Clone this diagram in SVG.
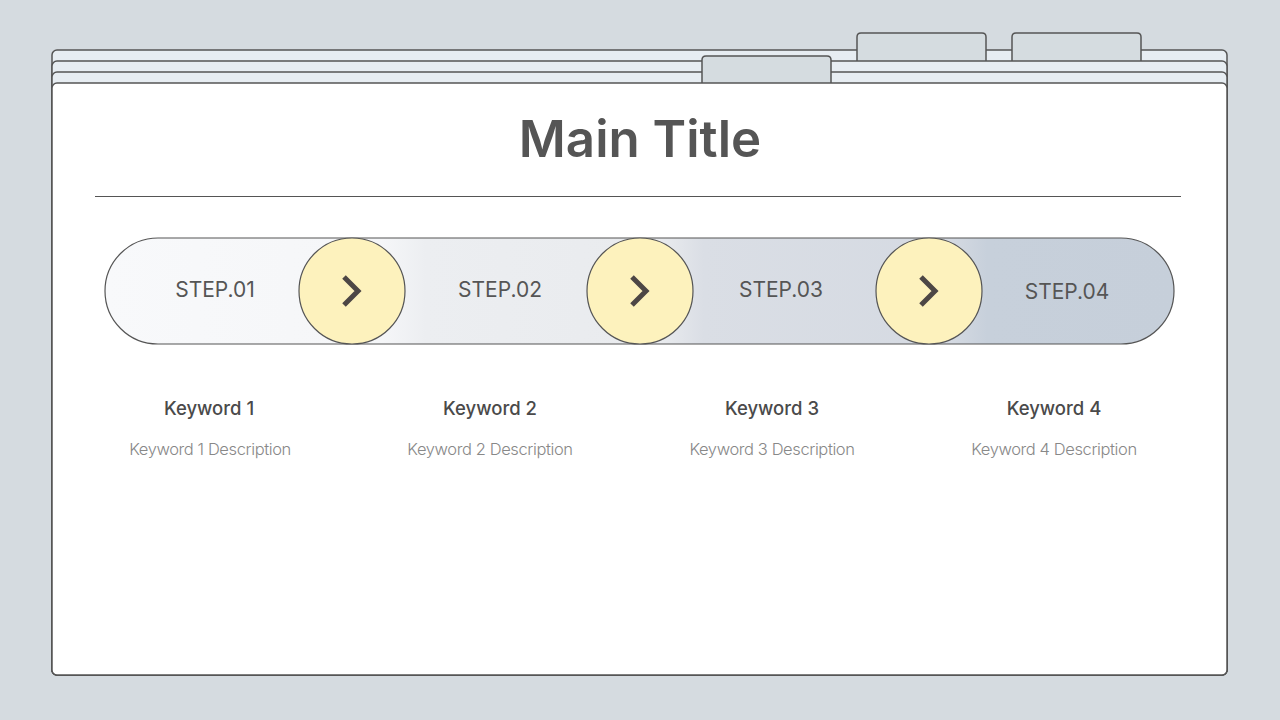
<svg xmlns="http://www.w3.org/2000/svg" width="1280" height="720" viewBox="0 0 1280 720">
<defs>
<style>
.sheet{fill:#e7edf2;stroke:#555;stroke-width:1.5}
.tab{fill:#d5dce0;stroke:#555;stroke-width:1.5}
.circ{fill:#fdf2bd;stroke:#555;stroke-width:1.2}
.chev{fill:none;stroke:#4d4745;stroke-width:5;stroke-linejoin:miter;stroke-linecap:butt}
.step{font-family:Inter,"Liberation Sans",sans-serif;font-size:21px;fill:#555;text-anchor:middle}
.kw{font-family:Inter,"Liberation Sans",sans-serif;font-size:18.5px;font-weight:500;fill:#4a4a4a;text-anchor:middle}
.desc{font-family:Inter,"Liberation Sans",sans-serif;font-size:16.5px;font-weight:300;letter-spacing:-0.4px;fill:#888;text-anchor:middle}
</style>
<linearGradient id="pillg" x1="105" y1="0" x2="1174" y2="0" gradientUnits="userSpaceOnUse">
<stop offset="0" stop-color="#f8f9fb"/>
<stop offset="0.26" stop-color="#f5f6f8"/>
<stop offset="0.30" stop-color="#eceef1"/>
<stop offset="0.52" stop-color="#e9ebee"/>
<stop offset="0.56" stop-color="#dadee5"/>
<stop offset="0.79" stop-color="#d5dae2"/>
<stop offset="0.825" stop-color="#c7d0db"/>
<stop offset="1" stop-color="#c6cfda"/>
</linearGradient>
</defs>
<rect x="0" y="0" width="1280" height="720" fill="#d5dbe0"/>
<g id="folder">
<rect class="sheet" x="52" y="50" width="1175" height="625" rx="5"/>
<path class="tab" d="M857,61 V37 Q857,33 861,33 H982 Q986,33 986,37 V61"/>
<path class="tab" d="M1012,61 V37 Q1012,33 1016,33 H1137 Q1141,33 1141,37 V61"/>
<rect class="sheet" x="52" y="61" width="1175" height="614" rx="5"/>
<rect class="sheet" x="52" y="72" width="1175" height="603" rx="5"/>
<path class="tab" d="M702,84 V60 Q702,56 706,56 H827 Q831,56 831,60 V84"/>
<rect x="52" y="83" width="1175" height="592" rx="5" fill="#ffffff" stroke="#555" stroke-width="1.5"/>
</g>
<g id="title">
<text x="640" y="157" font-family="Inter,'Liberation Sans',sans-serif" font-size="51" font-weight="600" fill="#555" text-anchor="middle">Main Title</text>
<line x1="95" y1="196.5" x2="1181" y2="196.5" stroke="#555" stroke-width="1"/>
</g>
<g id="pill">
<rect x="105" y="238" width="1069" height="106" rx="53" fill="url(#pillg)" stroke="#555" stroke-width="1.2"/>
</g>
<g id="step1">
<text class="step" x="215" y="297">STEP.01</text>
</g>
<g id="step2">
<text class="step" x="500" y="297">STEP.02</text>
</g>
<g id="step3">
<text class="step" x="781" y="297">STEP.03</text>
</g>
<g id="step4">
<text class="step" x="1067" y="299">STEP.04</text>
</g>
<g id="connectors">
<g id="arrow1"><circle class="circ" cx="352" cy="291" r="53"/><polyline class="chev" points="344,277 358,291 344,305"/></g>
<g id="arrow2"><circle class="circ" cx="640" cy="291" r="53"/><polyline class="chev" points="632,277 646,291 632,305"/></g>
<g id="arrow3"><circle class="circ" cx="929" cy="291" r="53"/><polyline class="chev" points="921,277 935,291 921,305"/></g>
</g>
<g id="kw1"><text class="kw" x="209" y="415">Keyword 1</text><text class="desc" x="210" y="455">Keyword 1 Description</text></g>
<g id="kw2"><text class="kw" x="490" y="415">Keyword 2</text><text class="desc" x="490" y="455">Keyword 2 Description</text></g>
<g id="kw3"><text class="kw" x="772" y="415">Keyword 3</text><text class="desc" x="772" y="455">Keyword 3 Description</text></g>
<g id="kw4"><text class="kw" x="1054" y="415">Keyword 4</text><text class="desc" x="1054" y="455">Keyword 4 Description</text></g>
</svg>
